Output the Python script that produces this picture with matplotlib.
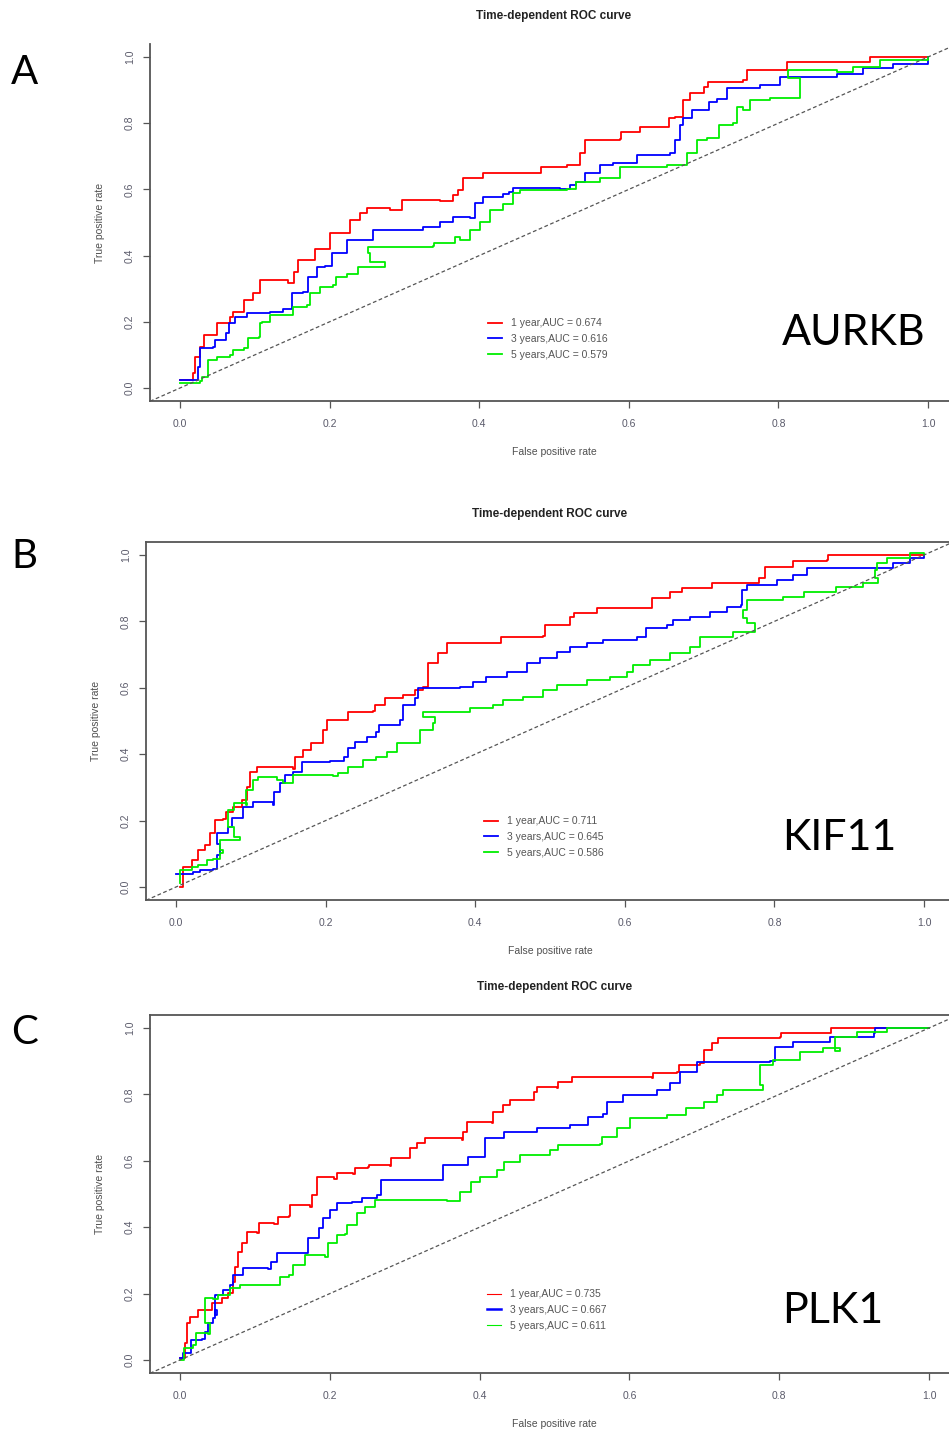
import matplotlib
matplotlib.use("Agg")
import matplotlib.pyplot as plt

W, H = 949, 1432

# ---- donnees (fpr, tpr) ----
aurkb_1y_fpr = [0, 0.017, 0.02, 0.027, 0.032, 0.044, 0.049, 0.067, 0.071, 0.083, 0.085, 0.098, 0.107, 0.145, 0.152, 0.158, 0.18, 0.2, 0.201, 0.218, 0.227, 0.24, 0.25, 0.281, 0.297, 0.348, 0.365, 0.372, 0.378, 0.405, 0.481, 0.483, 0.517, 0.535, 0.541, 0.588, 0.59, 0.615, 0.652, 0.654, 0.662, 0.673, 0.682, 0.7, 0.706, 0.753, 0.758, 0.811, 0.812, 0.922, 0.923, 1.0]
aurkb_1y_tpr = [0.024, 0.045, 0.094, 0.124, 0.16, 0.16, 0.196, 0.215, 0.23, 0.23, 0.266, 0.286, 0.326, 0.318, 0.351, 0.387, 0.42, 0.452, 0.468, 0.468, 0.507, 0.528, 0.543, 0.538, 0.568, 0.565, 0.583, 0.598, 0.634, 0.649, 0.649, 0.668, 0.674, 0.709, 0.749, 0.752, 0.774, 0.789, 0.789, 0.815, 0.82, 0.87, 0.89, 0.91, 0.925, 0.93, 0.96, 0.962, 0.985, 0.985, 1.0, 1.0]
aurkb_3y_fpr = [0, 0.024, 0.027, 0.044, 0.047, 0.062, 0.065, 0.073, 0.089, 0.12, 0.138, 0.15, 0.165, 0.171, 0.183, 0.194, 0.203, 0.223, 0.245, 0.258, 0.325, 0.348, 0.365, 0.388, 0.395, 0.405, 0.432, 0.44, 0.445, 0.508, 0.521, 0.53, 0.541, 0.561, 0.579, 0.611, 0.655, 0.662, 0.668, 0.672, 0.684, 0.705, 0.707, 0.718, 0.731, 0.758, 0.775, 0.802, 0.878, 0.913, 0.953, 1.0]
aurkb_3y_tpr = [0.024, 0.064, 0.12, 0.124, 0.145, 0.166, 0.196, 0.215, 0.226, 0.229, 0.24, 0.286, 0.29, 0.336, 0.366, 0.37, 0.408, 0.447, 0.447, 0.477, 0.487, 0.502, 0.517, 0.513, 0.558, 0.578, 0.585, 0.593, 0.604, 0.6, 0.613, 0.623, 0.649, 0.674, 0.68, 0.704, 0.709, 0.749, 0.795, 0.815, 0.84, 0.84, 0.864, 0.874, 0.905, 0.907, 0.915, 0.94, 0.95, 0.966, 0.98, 1.0]
aurkb_5y_fpr = [0, 0.027, 0.03, 0.038, 0.049, 0.067, 0.071, 0.085, 0.091, 0.105, 0.107, 0.109, 0.12, 0.143, 0.151, 0.17, 0.174, 0.187, 0.205, 0.209, 0.223, 0.238, 0.274, 0.274, 0.254, 0.251, 0.338, 0.34, 0.365, 0.367, 0.374, 0.388, 0.401, 0.414, 0.432, 0.445, 0.455, 0.517, 0.53, 0.561, 0.588, 0.651, 0.678, 0.691, 0.705, 0.72, 0.739, 0.744, 0.753, 0.762, 0.789, 0.829, 0.829, 0.813, 0.878, 0.9, 0.936, 1.0]
aurkb_5y_tpr = [0.015, 0.02, 0.033, 0.085, 0.094, 0.1, 0.115, 0.12, 0.151, 0.155, 0.196, 0.2, 0.221, 0.221, 0.245, 0.25, 0.287, 0.305, 0.31, 0.336, 0.345, 0.366, 0.366, 0.38, 0.408, 0.426, 0.428, 0.438, 0.438, 0.456, 0.446, 0.477, 0.502, 0.538, 0.555, 0.589, 0.598, 0.6, 0.623, 0.633, 0.668, 0.675, 0.709, 0.749, 0.755, 0.795, 0.8, 0.849, 0.84, 0.87, 0.875, 0.905, 0.936, 0.96, 0.955, 0.97, 0.99, 1.0]

kif11_1y_fpr = [0.005, 0.01, 0.021, 0.03, 0.039, 0.045, 0.052, 0.063, 0.067, 0.076, 0.088, 0.095, 0.099, 0.108, 0.157, 0.159, 0.17, 0.181, 0.197, 0.202, 0.226, 0.23, 0.264, 0.266, 0.279, 0.304, 0.32, 0.33, 0.337, 0.35, 0.362, 0.433, 0.435, 0.491, 0.493, 0.523, 0.527, 0.532, 0.563, 0.625, 0.636, 0.66, 0.676, 0.714, 0.716, 0.776, 0.78, 0.787, 0.823, 0.825, 0.87, 0.871, 1.0]
kif11_1y_tpr = [0.0, 0.06, 0.08, 0.111, 0.127, 0.163, 0.202, 0.205, 0.226, 0.241, 0.262, 0.301, 0.346, 0.361, 0.355, 0.392, 0.412, 0.433, 0.472, 0.502, 0.502, 0.527, 0.53, 0.547, 0.568, 0.578, 0.593, 0.602, 0.674, 0.705, 0.734, 0.735, 0.753, 0.755, 0.789, 0.79, 0.813, 0.825, 0.84, 0.84, 0.87, 0.889, 0.9, 0.9, 0.915, 0.915, 0.93, 0.964, 0.965, 0.981, 0.985, 0.999, 1.0]
kif11_3y_fpr = [0.0, 0.023, 0.032, 0.05, 0.055, 0.059, 0.055, 0.07, 0.075, 0.09, 0.103, 0.123, 0.13, 0.131, 0.139, 0.146, 0.157, 0.168, 0.206, 0.224, 0.23, 0.239, 0.255, 0.268, 0.272, 0.3, 0.304, 0.32, 0.324, 0.38, 0.397, 0.415, 0.442, 0.469, 0.487, 0.509, 0.527, 0.549, 0.571, 0.616, 0.629, 0.656, 0.665, 0.687, 0.714, 0.736, 0.756, 0.757, 0.763, 0.787, 0.803, 0.825, 0.843, 0.928, 0.959, 0.981, 1.0]
kif11_3y_tpr = [0.04, 0.045, 0.05, 0.053, 0.096, 0.13, 0.163, 0.181, 0.208, 0.241, 0.256, 0.256, 0.247, 0.286, 0.313, 0.337, 0.346, 0.376, 0.38, 0.392, 0.418, 0.437, 0.452, 0.467, 0.488, 0.503, 0.548, 0.568, 0.599, 0.603, 0.618, 0.633, 0.648, 0.674, 0.689, 0.709, 0.723, 0.734, 0.744, 0.753, 0.78, 0.789, 0.804, 0.813, 0.828, 0.843, 0.848, 0.894, 0.91, 0.91, 0.924, 0.94, 0.96, 0.962, 0.975, 0.99, 1.0]
kif11_5y_fpr = [0.005, 0.005, 0.021, 0.03, 0.041, 0.05, 0.059, 0.063, 0.059, 0.086, 0.077, 0.07, 0.07, 0.077, 0.095, 0.093, 0.103, 0.11, 0.135, 0.143, 0.157, 0.21, 0.217, 0.23, 0.25, 0.268, 0.282, 0.295, 0.317, 0.326, 0.344, 0.346, 0.33, 0.393, 0.424, 0.437, 0.464, 0.491, 0.509, 0.549, 0.58, 0.603, 0.611, 0.634, 0.66, 0.687, 0.701, 0.745, 0.774, 0.774, 0.763, 0.758, 0.763, 0.812, 0.839, 0.883, 0.918, 0.939, 0.935, 0.937, 0.95, 0.972, 0.981, 1.0]
kif11_5y_tpr = [0.012, 0.05, 0.06, 0.065, 0.08, 0.085, 0.102, 0.11, 0.141, 0.151, 0.181, 0.211, 0.232, 0.252, 0.248, 0.292, 0.322, 0.331, 0.322, 0.314, 0.337, 0.334, 0.343, 0.361, 0.382, 0.392, 0.406, 0.433, 0.435, 0.472, 0.493, 0.512, 0.527, 0.539, 0.548, 0.563, 0.572, 0.593, 0.608, 0.623, 0.633, 0.648, 0.669, 0.684, 0.704, 0.723, 0.753, 0.768, 0.774, 0.794, 0.81, 0.834, 0.864, 0.874, 0.889, 0.904, 0.915, 0.93, 0.955, 0.975, 0.99, 0.99, 1.005, 1.0]

plk1_1y_fpr = [0, 0.007, 0.01, 0.013, 0.024, 0.038, 0.043, 0.056, 0.064, 0.071, 0.073, 0.078, 0.083, 0.089, 0.103, 0.105, 0.125, 0.131, 0.145, 0.147, 0.174, 0.176, 0.183, 0.205, 0.21, 0.231, 0.233, 0.251, 0.253, 0.28, 0.282, 0.305, 0.307, 0.316, 0.327, 0.376, 0.378, 0.383, 0.416, 0.418, 0.431, 0.44, 0.47, 0.472, 0.476, 0.503, 0.505, 0.521, 0.523, 0.63, 0.632, 0.663, 0.666, 0.694, 0.699, 0.71, 0.718, 0.801, 0.803, 0.868, 0.869, 1.0]
plk1_1y_tpr = [0.005, 0.05, 0.111, 0.13, 0.15, 0.15, 0.171, 0.186, 0.201, 0.236, 0.281, 0.325, 0.352, 0.386, 0.383, 0.412, 0.41, 0.431, 0.433, 0.467, 0.462, 0.497, 0.55, 0.545, 0.562, 0.56, 0.578, 0.58, 0.587, 0.585, 0.607, 0.607, 0.638, 0.653, 0.668, 0.663, 0.686, 0.716, 0.713, 0.746, 0.767, 0.783, 0.783, 0.806, 0.822, 0.82, 0.837, 0.837, 0.852, 0.848, 0.864, 0.866, 0.889, 0.894, 0.934, 0.955, 0.97, 0.972, 0.985, 0.985, 1.0, 1.0]
plk1_3y_fpr = [0, 0.004, 0.013, 0.015, 0.029, 0.033, 0.037, 0.044, 0.047, 0.05, 0.047, 0.058, 0.067, 0.071, 0.084, 0.118, 0.122, 0.129, 0.169, 0.171, 0.185, 0.191, 0.2, 0.209, 0.229, 0.243, 0.263, 0.269, 0.349, 0.351, 0.374, 0.385, 0.405, 0.407, 0.432, 0.477, 0.521, 0.545, 0.565, 0.57, 0.592, 0.637, 0.654, 0.668, 0.69, 0.788, 0.795, 0.819, 0.868, 0.926, 0.928, 1.0]
plk1_3y_tpr = [0.005, 0.02, 0.022, 0.06, 0.063, 0.084, 0.111, 0.126, 0.15, 0.135, 0.196, 0.211, 0.226, 0.256, 0.276, 0.274, 0.296, 0.322, 0.322, 0.367, 0.397, 0.427, 0.452, 0.472, 0.477, 0.487, 0.497, 0.542, 0.542, 0.587, 0.587, 0.611, 0.611, 0.668, 0.687, 0.698, 0.708, 0.732, 0.742, 0.777, 0.797, 0.812, 0.833, 0.868, 0.898, 0.9, 0.942, 0.958, 0.973, 0.985, 1.0, 1.0]
plk1_5y_fpr = [0, 0.006, 0.018, 0.022, 0.038, 0.04, 0.033, 0.044, 0.051, 0.067, 0.08, 0.125, 0.134, 0.146, 0.151, 0.165, 0.167, 0.194, 0.198, 0.209, 0.22, 0.223, 0.236, 0.247, 0.26, 0.356, 0.374, 0.387, 0.389, 0.4, 0.423, 0.432, 0.454, 0.494, 0.505, 0.561, 0.563, 0.583, 0.601, 0.65, 0.676, 0.699, 0.717, 0.725, 0.779, 0.775, 0.792, 0.828, 0.859, 0.881, 0.875, 0.904, 0.944, 1.0]
plk1_5y_tpr = [0.0, 0.035, 0.045, 0.081, 0.078, 0.11, 0.186, 0.185, 0.196, 0.216, 0.226, 0.226, 0.25, 0.255, 0.286, 0.286, 0.316, 0.31, 0.352, 0.377, 0.38, 0.407, 0.442, 0.462, 0.482, 0.478, 0.507, 0.507, 0.537, 0.55, 0.572, 0.596, 0.617, 0.632, 0.648, 0.65, 0.671, 0.698, 0.728, 0.738, 0.758, 0.777, 0.797, 0.812, 0.827, 0.888, 0.903, 0.927, 0.94, 0.93, 0.973, 0.987, 0.999, 1.0]

genes = ["AURKB", "KIF11", "PLK1"]
letters = ["A", "B", "C"]
auc_1y = [0.674, 0.711, 0.735]
auc_3y = [0.616, 0.645, 0.667]
auc_5y = [0.579, 0.586, 0.611]
curves = [
    [(aurkb_1y_fpr, aurkb_1y_tpr), (aurkb_3y_fpr, aurkb_3y_tpr), (aurkb_5y_fpr, aurkb_5y_tpr)],
    [(kif11_1y_fpr, kif11_1y_tpr), (kif11_3y_fpr, kif11_3y_tpr), (kif11_5y_fpr, kif11_5y_tpr)],
    [(plk1_1y_fpr, plk1_1y_tpr), (plk1_3y_fpr, plk1_3y_tpr), (plk1_5y_fpr, plk1_5y_tpr)],
]
ticks = [0.0, 0.2, 0.4, 0.6, 0.8, 1.0]

# ---- mise en page (pixels de la figure d'origine) ----
# x0/x1 : pixel des valeurs 0 et 1 en x, y0/y1 : pixel des valeurs 0 et 1 en y
panels = [
    dict(x0=180, x1=928, y0=388, y1=57, top=False, leg_x=488, leg_y=339, gene_y=333, let_y=72),
    dict(x0=176, x1=924, y0=887, y1=555, top=True, leg_x=484, leg_y=837, gene_y=838, let_y=557),
    dict(x0=180, x1=929, y0=1360, y1=1028, top=True, leg_x=487, leg_y=1310, gene_y=1311, let_y=1032),
]
leg_lw = [[1.3, 1.3, 1.3], [1.3, 1.3, 1.3], [0.8, 1.8, 0.8]]

cols = ["#ff0000", "#0000ff", "#00ee00"]
lo, hi = -0.04, 1.04

plt.rcParams["font.family"] = ["Liberation Sans", "DejaVu Sans"]
fig = plt.figure(figsize=(W / 100, H / 100), dpi=100)
fig.patch.set_facecolor("white")

for i, p in enumerate(panels):
    sx = p["x1"] - p["x0"]
    sy = p["y0"] - p["y1"]
    left = p["x0"] + lo * sx
    right = p["x0"] + hi * sx
    bottom = p["y0"] - lo * sy
    top = p["y0"] - hi * sy
    ax = fig.add_axes([left / W, 1 - bottom / H, (right - left) / W, (bottom - top) / H])
    ax.set_xlim(lo, hi)
    ax.set_ylim(lo, hi)

    lines = []
    for (fpr, tpr), c in zip(curves[i], cols):
        ln, = ax.plot(fpr, tpr, color=c, lw=1.3, drawstyle="steps-post")
        lines.append(ln)
    ax.axline((0, 0), (1, 1), color="#555555", lw=0.9, ls=(0, (3, 2)))

    for s in ["left", "bottom", "top", "right"]:
        ax.spines[s].set_color("#555555")
        ax.spines[s].set_linewidth(1.3)
    ax.spines["right"].set_visible(False)
    ax.spines["top"].set_visible(p["top"])

    ax.set_xticks(ticks)
    ax.set_yticks(ticks)
    ax.set_xticklabels([f"{t:.1f}" for t in ticks])
    ax.set_yticklabels([f"{t:.1f}" for t in ticks], rotation=90, va="center")
    ax.tick_params(length=5, width=0.9, color="#555555", labelsize=7.5,
                   labelcolor="#5a5a6a")
    ax.tick_params(axis="x", pad=8)
    ax.tick_params(axis="y", pad=6)

    cx = (left + right) / 2
    cy = (top + bottom) / 2
    fig.text(cx / W, 1 - (top - 28) / H, "Time-dependent ROC curve", ha="center",
             va="center", fontsize=8.5, fontweight="bold", color="#222222")
    fig.text(cx / W, 1 - (bottom + 51) / H, "False positive rate", ha="center",
             va="center", fontsize=7.5, color="#505050")
    fig.text((left - 50) / W, 1 - cy / H, "True positive rate", ha="center",
             va="center", rotation=90, fontsize=7.5, color="#505050")

    labels = [f"1 year,AUC = {auc_1y[i]:.3f}", f"3 years,AUC = {auc_3y[i]:.3f}",
              f"5 years,AUC = {auc_5y[i]:.3f}"]
    leg = ax.legend(lines, labels, loc="center left",
                    bbox_to_anchor=(p["leg_x"] / W, 1 - p["leg_y"] / H),
                    bbox_transform=fig.transFigure, frameon=False, fontsize=7.5,
                    handlelength=1.3, handletextpad=0.9, labelspacing=0.55,
                    borderpad=0, borderaxespad=0, labelcolor="#555555")
    for h, lw in zip(leg.get_lines(), leg_lw[i]):
        h.set_linewidth(lw)

    fig.text(782 / W, 1 - p["gene_y"] / H, genes[i], ha="left", va="center",
             fontsize=31, family=["Lato", "DejaVu Sans"], color="black")
    fig.text(11 / W, 1 - p["let_y"] / H, letters[i], ha="left", va="center",
             fontsize=29, family=["Lato", "DejaVu Sans"], color="black")

fig.savefig("out.png", dpi=100, facecolor="white")
